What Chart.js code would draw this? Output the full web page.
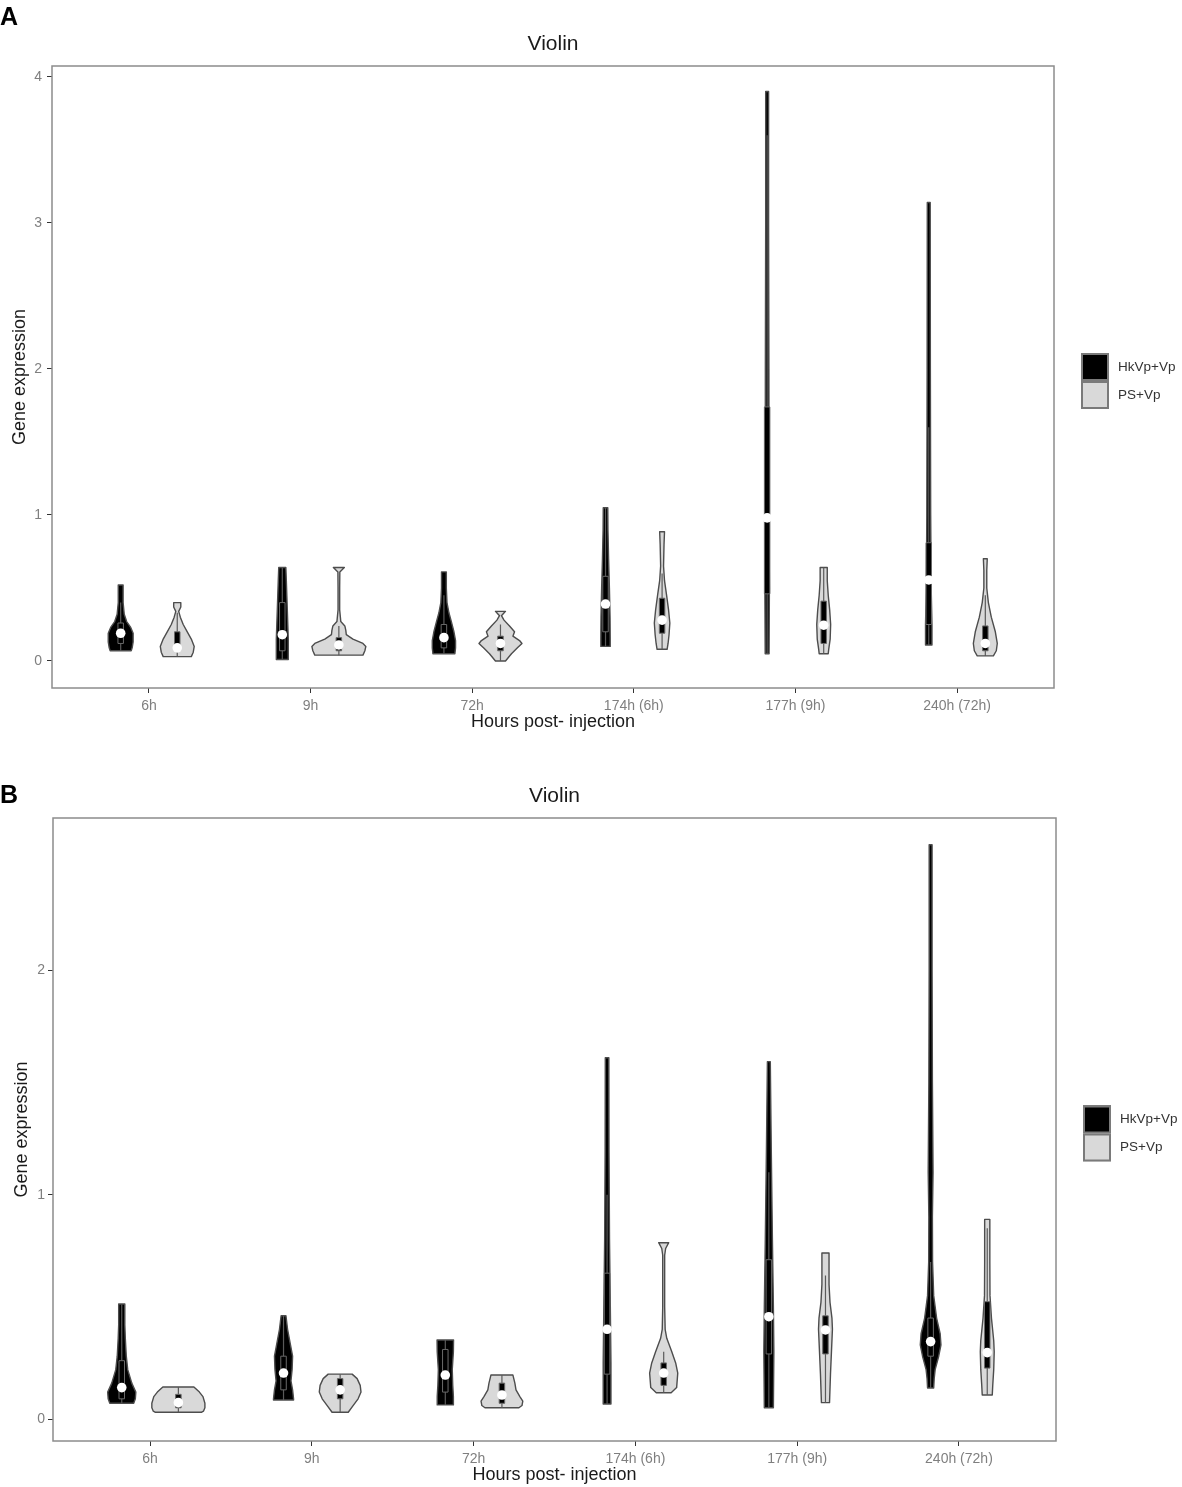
<!DOCTYPE html>
<html><head><meta charset="utf-8">
<script src="https://cdn.jsdelivr.net/npm/chart.js@4.4.1/dist/chart.umd.min.js"></script>
<style>
html,body{margin:0;padding:0;background:#fff;}
#wrap{position:relative;width:1182px;height:1487px;background:#fff;}
canvas{position:absolute;left:0;}
#cA{top:0;} #cB{top:745px;}
</style></head><body>
<div id="wrap"><canvas id="cA" width="1182" height="745"></canvas><canvas id="cB" width="1182" height="742"></canvas></div>
<script>
const categories = ['6h','9h','72h','174h (6h)','177h (9h)','240h (72h)'];
const seriesNames = ['HkVp+Vp','PS+Vp'];
const titleText = 'Violin';
const xTitle = 'Hours post- injection';
const yTitle = 'Gene expression';
const yTicksA = [0,1,2,3,4];
const yTicksB = [0,1,2];

// ---------- Panel A ----------
const medianA_Hk = [0.19,0.18,0.16,0.39,0.98,0.555];
const q1A_Hk     = [0.12,0.07,0.09,0.20,0.46,0.25];
const q3A_Hk     = [0.26,0.40,0.25,0.58,1.74,0.81];
const loA_Hk     = [0.07,0.01,0.05,0.10,0.05,0.11];
const hiA_Hk     = [0.40,0.64,0.45,1.05,3.60,1.60];
const medianA_PS = [0.09,0.11,0.12,0.28,0.245,0.12];
const q1A_PS     = [0.07,0.07,0.07,0.19,0.12,0.07];
const q3A_PS     = [0.20,0.16,0.17,0.43,0.41,0.24];
const loA_PS     = [0.03,0.04,0.00,0.08,0.05,0.035];
const hiA_PS     = [0.33,0.24,0.25,0.60,0.64,0.45];
// violin outlines: [value, half-width in category units]
const violinA_Hk = [
  [[0.52,0.015],[0.40,0.015],[0.32,0.022],[0.27,0.037],[0.23,0.062],[0.19,0.077],[0.13,0.077],[0.09,0.071],[0.07,0.065]],
  [[0.64,0.022],[0.55,0.025],[0.45,0.028],[0.35,0.031],[0.25,0.034],[0.15,0.037],[0.05,0.037],[0.01,0.037]],
  [[0.61,0.015],[0.50,0.015],[0.40,0.019],[0.33,0.031],[0.27,0.046],[0.20,0.062],[0.14,0.072],[0.09,0.072],[0.05,0.068]],
  [[1.05,0.014],[0.90,0.015],[0.70,0.019],[0.50,0.024],[0.30,0.028],[0.15,0.029],[0.10,0.029]],
  [[3.90,0.009],[3.00,0.009],[2.00,0.011],[1.00,0.012],[0.50,0.014],[0.05,0.012]],
  [[3.14,0.009],[2.00,0.010],[1.00,0.012],[0.50,0.015],[0.25,0.020],[0.11,0.020]]
];
const violinA_PS = [
  [[0.40,0.022],[0.37,0.022],[0.34,0.009],[0.30,0.019],[0.25,0.037],[0.20,0.062],[0.15,0.087],[0.10,0.105],[0.06,0.099],[0.03,0.087]],
  [[0.64,0.034],[0.61,0.006],[0.50,0.005],[0.35,0.005],[0.27,0.012],[0.24,0.037],[0.21,0.043],[0.18,0.046],[0.15,0.087],[0.12,0.149],[0.10,0.167],[0.07,0.161],[0.04,0.149]],
  [[0.34,0.031],[0.31,0.006],[0.28,0.022],[0.24,0.056],[0.20,0.087],[0.17,0.077],[0.14,0.118],[0.12,0.133],[0.09,0.105],[0.05,0.068],[0.00,0.031]],
  [[0.885,0.015],[0.80,0.012],[0.65,0.009],[0.55,0.015],[0.45,0.028],[0.35,0.040],[0.26,0.048],[0.18,0.043],[0.12,0.037],[0.08,0.031]],
  [[0.64,0.022],[0.55,0.022],[0.45,0.028],[0.35,0.037],[0.25,0.043],[0.15,0.040],[0.08,0.031],[0.05,0.028]],
  [[0.70,0.012],[0.62,0.009],[0.50,0.009],[0.40,0.019],[0.30,0.037],[0.20,0.062],[0.12,0.074],[0.07,0.068],[0.035,0.050]]
];

// ---------- Panel B ----------
const medianB_Hk = [0.14,0.205,0.196,0.40,0.456,0.345];
const q1B_Hk     = [0.09,0.13,0.12,0.20,0.29,0.28];
const q3B_Hk     = [0.26,0.28,0.31,0.65,0.71,0.45];
const loB_Hk     = [0.07,0.085,0.063,0.067,0.05,0.138];
const hiB_Hk     = [0.51,0.46,0.352,1.00,1.10,0.70];
const medianB_PS = [0.073,0.13,0.107,0.205,0.397,0.296];
const q1B_PS     = [0.05,0.09,0.07,0.15,0.29,0.227];
const q3B_PS     = [0.11,0.18,0.16,0.25,0.46,0.523];
const loB_PS     = [0.03,0.03,0.05,0.117,0.073,0.107];
const hiB_PS     = [0.143,0.20,0.196,0.30,0.64,0.85];
const violinB_Hk = [
  [[0.513,0.019],[0.42,0.019],[0.36,0.022],[0.28,0.028],[0.22,0.037],[0.16,0.062],[0.12,0.087],[0.09,0.084],[0.07,0.074]],
  [[0.46,0.015],[0.40,0.025],[0.33,0.043],[0.28,0.056],[0.22,0.053],[0.17,0.046],[0.13,0.056],[0.09,0.062],[0.085,0.062]],
  [[0.352,0.051],[0.30,0.050],[0.22,0.043],[0.15,0.046],[0.10,0.050],[0.063,0.050]],
  [[1.61,0.011],[1.20,0.012],[0.80,0.015],[0.50,0.020],[0.25,0.024],[0.067,0.024]],
  [[1.593,0.009],[1.20,0.015],[0.80,0.022],[0.50,0.028],[0.30,0.031],[0.05,0.028]],
  [[2.56,0.009],[2.00,0.009],[1.50,0.011],[1.10,0.015],[0.90,0.011],[0.70,0.012],[0.55,0.019],[0.45,0.037],[0.38,0.059],[0.33,0.064],[0.28,0.050],[0.22,0.028],[0.18,0.022],[0.138,0.019]]
];
const violinB_PS = [
  [[0.143,0.096],[0.12,0.130],[0.10,0.152],[0.07,0.164],[0.05,0.164],[0.035,0.155],[0.03,0.142]],
  [[0.20,0.074],[0.18,0.105],[0.15,0.124],[0.12,0.129],[0.09,0.111],[0.06,0.080],[0.03,0.050]],
  [[0.196,0.068],[0.16,0.080],[0.13,0.087],[0.10,0.111],[0.08,0.129],[0.06,0.124],[0.05,0.105]],
  [[0.786,0.031],[0.76,0.012],[0.73,0.006],[0.50,0.006],[0.40,0.009],[0.36,0.019],[0.30,0.050],[0.25,0.074],[0.205,0.087],[0.14,0.080],[0.117,0.046]],
  [[0.74,0.022],[0.60,0.022],[0.52,0.028],[0.45,0.040],[0.40,0.043],[0.30,0.037],[0.20,0.031],[0.073,0.025]],
  [[0.89,0.016],[0.70,0.016],[0.55,0.017],[0.45,0.026],[0.35,0.040],[0.30,0.043],[0.22,0.040],[0.15,0.034],[0.107,0.031]]
];

Chart.defaults.font.family = '"Liberation Sans", Arial, Helvetica, sans-serif';

const DODGE = 0.175;
const FILLS = ['#000000', '#d9d9d9'];

function makeDataset(k, med, q1, q3, lo, hi, profiles) {
  const offset = k === 0 ? -DODGE : DODGE;
  return {
    type: 'scatter',
    label: seriesNames[k],
    backgroundColor: FILLS[k],
    borderColor: '#4d4d4d',
    data: med.map((m, i) => ({ x: i + 1 + offset, y: m })),
    pointRadius: 4.8, pointHoverRadius: 4.8,
    pointBackgroundColor: '#ffffff', pointBorderWidth: 0,
    violin: { offset, q1, q3, lo, hi, profiles }
  };
}

const violinPlugin = {
  id: 'violins',
  beforeDatasetsDraw(chart) {
    const { ctx, chartArea, scales: { x, y } } = chart;
    ctx.save();
    ctx.beginPath();
    ctx.rect(chartArea.left, chartArea.top, chartArea.width, chartArea.height);
    ctx.clip();
    chart.data.datasets.forEach(ds => {
      const v = ds.violin;
      v.profiles.forEach((prof, i) => {
        const c = i + 1 + v.offset;
        ctx.beginPath();
        prof.forEach(([val, w], k) => {
          const px = x.getPixelForValue(c + w), py = y.getPixelForValue(val);
          if (k) ctx.lineTo(px, py); else ctx.moveTo(px, py);
        });
        for (let k = prof.length - 1; k >= 0; k--) {
          const [val, w] = prof[k];
          ctx.lineTo(x.getPixelForValue(c - w), y.getPixelForValue(val));
        }
        ctx.closePath();
        ctx.fillStyle = ds.backgroundColor;
        ctx.fill();
        ctx.lineJoin = 'round';
        ctx.lineWidth = 1.4;
        ctx.strokeStyle = '#4d4d4d';
        ctx.stroke();
        const cx = x.getPixelForValue(c);
        ctx.beginPath();
        ctx.moveTo(cx, y.getPixelForValue(v.hi[i])); ctx.lineTo(cx, y.getPixelForValue(v.q3[i]));
        ctx.moveTo(cx, y.getPixelForValue(v.q1[i])); ctx.lineTo(cx, y.getPixelForValue(v.lo[i]));
        ctx.strokeStyle = '#5a5a5a'; ctx.lineWidth = 1.2; ctx.stroke();
        const bl = x.getPixelForValue(c - 0.017), br = x.getPixelForValue(c + 0.017);
        const bt = y.getPixelForValue(v.q3[i]), bb = y.getPixelForValue(v.q1[i]);
        ctx.fillStyle = '#000';
        ctx.fillRect(bl, bt, br - bl, bb - bt);
        ctx.strokeStyle = '#6a6a6a'; ctx.lineWidth = 1;
        ctx.strokeRect(bl, bt, br - bl, bb - bt);
      });
    });
    ctx.restore();
  },
  afterDraw(chart, args, opts) {
    const { ctx, chartArea } = chart;
    ctx.save();
    ctx.strokeStyle = '#8c8c8c';
    ctx.lineWidth = 1.5;
    ctx.strokeRect(chartArea.left, chartArea.top, chartArea.width, chartArea.height);
    // legend
    const cy = (chartArea.top + chartArea.bottom) / 2 + 4;
    const bx = chartArea.right + 27;
    ctx.font = '13.5px "Liberation Sans", Arial, sans-serif';
    ctx.textBaseline = 'middle';
    ctx.textAlign = 'left';
    chart.data.datasets.forEach((ds, k) => {
      const by = cy - 28 + k * 28;
      ctx.fillStyle = ds.backgroundColor;
      ctx.fillRect(bx, by, 28, 28);
      ctx.strokeStyle = '#7a7a7a'; ctx.lineWidth = 2;
      ctx.strokeRect(bx + 1, by + 1, 26, 26);
      ctx.fillStyle = '#333333';
      ctx.fillText(ds.label, bx + 37, by + 14);
    });
    // panel letter
    ctx.fillStyle = '#000';
    ctx.font = 'bold 25px "Liberation Sans", Arial, sans-serif';
    ctx.textBaseline = 'alphabetic';
    ctx.fillText(opts.letter, 0, opts.letterY);
    ctx.restore();
  }
};

function buildChart(canvasId, cfg) {
  const datasets = [
    makeDataset(0, cfg.med[0], cfg.q1[0], cfg.q3[0], cfg.lo[0], cfg.hi[0], cfg.violins[0]),
    makeDataset(1, cfg.med[1], cfg.q1[1], cfg.q3[1], cfg.lo[1], cfg.hi[1], cfg.violins[1])
  ];
  return new Chart(document.getElementById(canvasId), {
    type: 'scatter',
    data: { datasets },
    plugins: [violinPlugin],
    options: {
      responsive: false,
      animation: false,
      events: [],
      layout: { padding: { left: 0, right: cfg.padRight, top: 0, bottom: 0 } },
      plugins: {
        legend: { display: false },
        tooltip: { enabled: false },
        title: {
          display: true, text: titleText, fullSize: false,
          color: '#1a1a1a', font: { size: 21, weight: 'normal' },
          padding: { top: cfg.titleTop, bottom: cfg.titleBottom }
        },
        violins: { letter: cfg.letter, letterY: cfg.letterY }
      },
      scales: {
        x: {
          type: 'linear', min: 0.4, max: 6.6,
          afterBuildTicks: s => { s.ticks = categories.map((c, i) => ({ value: i + 1 })); },
          afterFit: s => { s.height = cfg.xHeight; },
          ticks: {
            callback: v => categories[Math.round(v) - 1],
            color: '#7f7f7f', font: { size: 14 }, padding: 5,
            autoSkip: false, maxRotation: 0
          },
          grid: { display: true, drawOnChartArea: false, drawTicks: true, tickLength: 5, tickColor: '#333', tickWidth: 1 },
          border: { display: false },
          title: { display: true, text: xTitle, color: '#1a1a1a', font: { size: 18 }, padding: { top: 0, bottom: cfg.xTitleBottom } }
        },
        y: {
          type: 'linear', min: cfg.yMin, max: cfg.yMax,
          afterBuildTicks: s => { s.ticks = cfg.yTicks.map(v => ({ value: v })); },
          afterFit: s => { s.width = cfg.yWidth; },
          ticks: { callback: v => String(v), color: '#7f7f7f', font: { size: 14 }, padding: cfg.yPad, autoSkip: false },
          grid: { display: true, drawOnChartArea: false, drawTicks: true, tickLength: 5, tickColor: '#333', tickWidth: 1 },
          border: { display: false },
          title: { display: true, text: yTitle, color: '#1a1a1a', font: { size: 18 }, padding: { top: cfg.yTitlePad, bottom: 0 } }
        }
      }
    }
  });
}

buildChart('cA', {
  med: [medianA_Hk, medianA_PS], q1: [q1A_Hk, q1A_PS], q3: [q3A_Hk, q3A_PS],
  lo: [loA_Hk, loA_PS], hi: [hiA_Hk, hiA_PS], violins: [violinA_Hk, violinA_PS],
  yMin: -0.185, yMax: 4.075, yTicks: yTicksA,
  padRight: 128, titleTop: 31.4, titleBottom: 9.4, xHeight: 57, xTitleBottom: 12.2,
  yWidth: 52, yPad: 5, yTitlePad: 9.2, letter: 'A', letterY: 25
});
buildChart('cB', {
  med: [medianB_Hk, medianB_PS], q1: [q1B_Hk, q1B_PS], q3: [q3B_Hk, q3B_PS],
  lo: [loB_Hk, loB_PS], hi: [hiB_Hk, hiB_PS], violins: [violinB_Hk, violinB_PS],
  yMin: -0.098, yMax: 2.679, yTicks: yTicksB,
  padRight: 126, titleTop: 38.4, titleBottom: 9.4, xHeight: 46, xTitleBottom: 1.2,
  yWidth: 53, yPad: 3, yTitlePad: 11.2, letter: 'B', letterY: 58
});
</script>
</body></html>
